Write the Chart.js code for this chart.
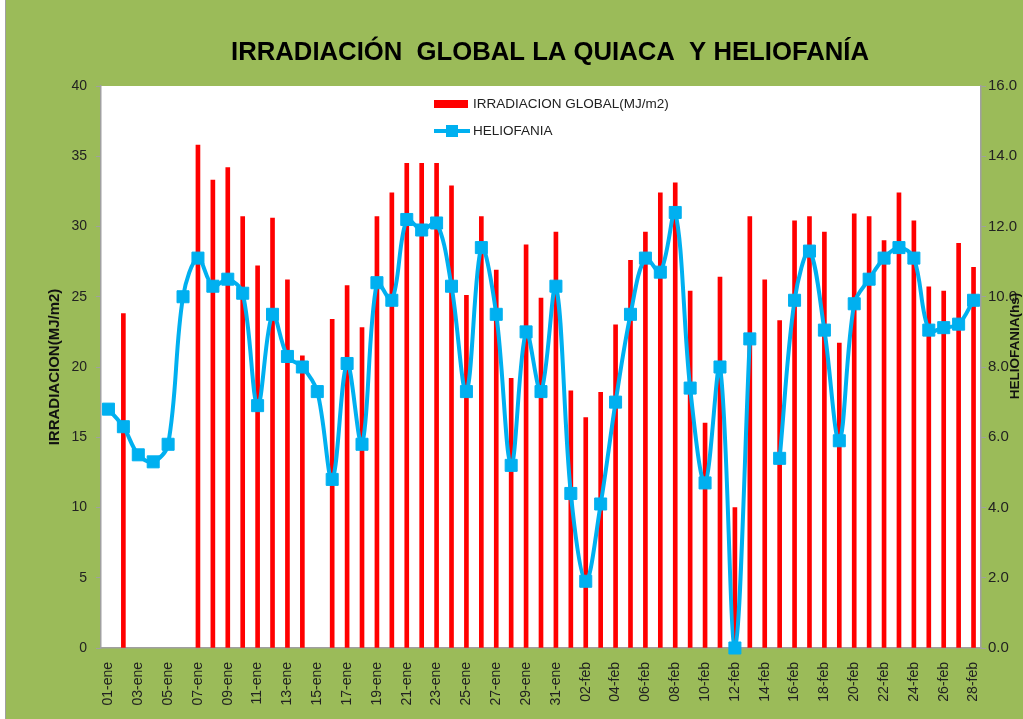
<!DOCTYPE html>
<html>
<head>
<meta charset="utf-8">
<script src="https://cdn.jsdelivr.net/npm/chart.js@4.4.1/dist/chart.umd.min.js"></script>
<style>
  body { margin: 0; background: #9bbb59; }
  #chart { display: block; }
</style>
</head>
<body>
<canvas id="chart" width="1023" height="719"></canvas>
<script>
const fechas = [
  '01-ene','02-ene','03-ene','04-ene','05-ene','06-ene','07-ene','08-ene','09-ene','10-ene',
  '11-ene','12-ene','13-ene','14-ene','15-ene','16-ene','17-ene','18-ene','19-ene','20-ene',
  '21-ene','22-ene','23-ene','24-ene','25-ene','26-ene','27-ene','28-ene','29-ene','30-ene','31-ene',
  '01-feb','02-feb','03-feb','04-feb','05-feb','06-feb','07-feb','08-feb','09-feb','10-feb',
  '11-feb','12-feb','13-feb','14-feb','15-feb','16-feb','17-feb','18-feb','19-feb','20-feb',
  '21-feb','22-feb','23-feb','24-feb','25-feb','26-feb','27-feb','28-feb'
];

// MJ/m2 (null = sin dato)
const irradiacion = [
  null, 23.8, null, null, null, null, 35.8, 33.3, 34.2, 30.7,
  27.2, 30.6, 26.2, 20.8, null, 23.4, 25.8, 22.8, 30.7, 32.4,
  34.5, 34.5, 34.5, 32.9, 25.1, 30.7, 26.9, 19.2, 28.7, 24.9, 29.6,
  18.3, 16.4, 18.2, 23.0, 27.6, 29.6, 32.4, 33.1, 25.4, 16.0,
  26.4, 10.0, 30.7, 26.2, 23.3, 30.4, 30.7, 29.6, 21.7, 30.9,
  30.7, 29.0, 32.4, 30.4, 25.7, 25.4, 28.8, 27.1
];

// horas de sol
const heliofania = [
  6.8, 6.3, 5.5, 5.3, 5.8, 10.0, 11.1, 10.3, 10.5, 10.1,
  6.9, 9.5, 8.3, 8.0, 7.3, 4.8, 8.1, 5.8, 10.4, 9.9,
  12.2, 11.9, 12.1, 10.3, 7.3, 11.4, 9.5, 5.2, 9.0, 7.3, 10.3,
  4.4, 1.9, 4.1, 7.0, 9.5, 11.1, 10.7, 12.4, 7.4, 4.7,
  8.0, 0.0, 8.8, null, 5.4, 9.9, 11.3, 9.05, 5.9, 9.8,
  10.5, 11.1, 11.4, 11.1, 9.05, 9.12, 9.22, 9.9
];

const irradTicks = [0, 5, 10, 15, 20, 25, 30, 35, 40];
const helioTicks = [0, 2, 4, 6, 8, 10, 12, 14, 16];

const titulo = 'IRRADIACIÓN  GLOBAL LA QUIACA  Y HELIOFANÍA';
const tituloIzq = 'IRRADIACION(MJ/m2)';
const tituloDer = 'HELIOFANIA(hs)';
const leyendaBarras = 'IRRADIACION GLOBAL(MJ/m2)';
const leyendaLinea = 'HELIOFANIA';

const VERDE = '#9bbb59';
const ROJO = '#ff0000';
const AZUL = '#00b0f0';
const FUENTE = "'Liberation Sans', Arial, sans-serif";

const decoracion = {
  id: 'decoracion',
  beforeDraw(chart) {
    const ctx = chart.ctx;
    const a = chart.chartArea;
    ctx.save();
    ctx.fillStyle = VERDE;
    ctx.fillRect(0, 0, chart.width, chart.height);
    ctx.fillStyle = '#ffffff';
    ctx.fillRect(0, 0, 5, chart.height);
    ctx.fillRect(a.left, a.top, a.right - a.left, a.bottom - a.top);
    ctx.strokeStyle = '#a0a0a0';
    ctx.lineWidth = 1;
    ctx.beginPath();
    ctx.moveTo(5.5, 0);
    ctx.lineTo(5.5, chart.height);
    ctx.stroke();
    ctx.restore();
  },
  afterDraw(chart) {
    const ctx = chart.ctx;
    const a = chart.chartArea;
    const midY = (a.top + a.bottom) / 2;
    ctx.save();
    // titulo
    ctx.fillStyle = '#000000';
    ctx.font = 'bold 25.7px ' + FUENTE;
    ctx.textAlign = 'center';
    ctx.textBaseline = 'middle';
    ctx.fillText(titulo, 550, 53);

    // titulos de ejes
    ctx.fillStyle = '#111111';
    ctx.font = 'bold 15px ' + FUENTE;
    ctx.save();
    ctx.translate(55, midY);
    ctx.rotate(-Math.PI / 2);
    ctx.fillText(tituloIzq, 0, 0);
    ctx.restore();
    ctx.font = 'bold 13.5px ' + FUENTE;
    ctx.save();
    ctx.translate(1015, 346);
    ctx.rotate(-Math.PI / 2);
    ctx.fillText(tituloDer, 0, 0);
    ctx.restore();

    // leyenda
    ctx.textAlign = 'left';
    ctx.font = '13.5px ' + FUENTE;
    ctx.fillStyle = ROJO;
    ctx.fillRect(434, 100, 34, 8);
    ctx.fillStyle = '#222222';
    ctx.fillText(leyendaBarras, 473, 104);
    ctx.strokeStyle = AZUL;
    ctx.lineWidth = 4;
    ctx.beginPath();
    ctx.moveTo(434, 131);
    ctx.lineTo(470, 131);
    ctx.stroke();
    ctx.fillStyle = AZUL;
    ctx.fillRect(446, 125, 12, 12);
    ctx.fillStyle = '#222222';
    ctx.fillText(leyendaLinea, 473, 131);
    ctx.restore();
  }
};

new Chart(document.getElementById('chart'), {
  type: 'bar',
  data: {
    labels: fechas,
    datasets: [
      {
        type: 'line',
        label: leyendaLinea,
        data: heliofania,
        yAxisID: 'y1',
        borderColor: AZUL,
        backgroundColor: AZUL,
        borderWidth: 4,
        tension: 0.35,
        pointStyle: 'rect',
        pointRadius: 8.5,
        pointBorderWidth: 1,
        pointBackgroundColor: AZUL,
        pointBorderColor: AZUL,
        spanGaps: false,
        clip: false,
        order: 0
      },
      {
        label: leyendaBarras,
        data: irradiacion,
        yAxisID: 'y',
        backgroundColor: ROJO,
        barThickness: 4,
        order: 1
      }
    ]
  },
  options: {
    responsive: false,
    animation: false,
    layout: { padding: { top: 86, left: 0, right: 0, bottom: 0 } },
    plugins: {
      legend: { display: false },
      title: { display: false },
      tooltip: { enabled: false }
    },
    scales: {
      x: {
        grid: { display: false, drawTicks: false },
        border: { display: true, color: '#a0a0a0', width: 1.5 },
        ticks: {
          autoSkip: false,
          maxRotation: 90,
          minRotation: 90,
          padding: 14,
          color: '#222222',
          font: { family: FUENTE, size: 14 },
          callback: function(value, index) {
            return index % 2 === 0 ? fechas[index] : '';
          }
        },
        afterFit: function(scale) { scale.height = 71; }
      },
      y: {
        position: 'left',
        min: 0,
        max: 40,
        afterBuildTicks: function(scale) {
          scale.ticks = irradTicks.map(v => ({ value: v }));
        },
        grid: { drawOnChartArea: false, drawTicks: true, tickLength: 5, color: '#a0a0a0' },
        border: { display: true, color: '#a0a0a0', width: 1.5 },
        ticks: {
          padding: 9,
          color: '#222222',
          font: { family: FUENTE, size: 14 }
        },
        afterFit: function(scale) { scale.width = 101; }
      },
      y1: {
        position: 'right',
        min: 0,
        max: 16,
        afterBuildTicks: function(scale) {
          scale.ticks = helioTicks.map(v => ({ value: v }));
        },
        grid: { drawOnChartArea: false, drawTicks: true, tickLength: 5, color: '#a0a0a0' },
        border: { display: true, color: '#a0a0a0', width: 1.5 },
        ticks: {
          padding: 2,
          color: '#222222',
          font: { family: FUENTE, size: 15 },
          callback: function(value) { return value.toFixed(1); }
        },
        afterFit: function(scale) { scale.width = 42; }
      }
    }
  },
  plugins: [decoracion]
});
</script>
</body>
</html>
